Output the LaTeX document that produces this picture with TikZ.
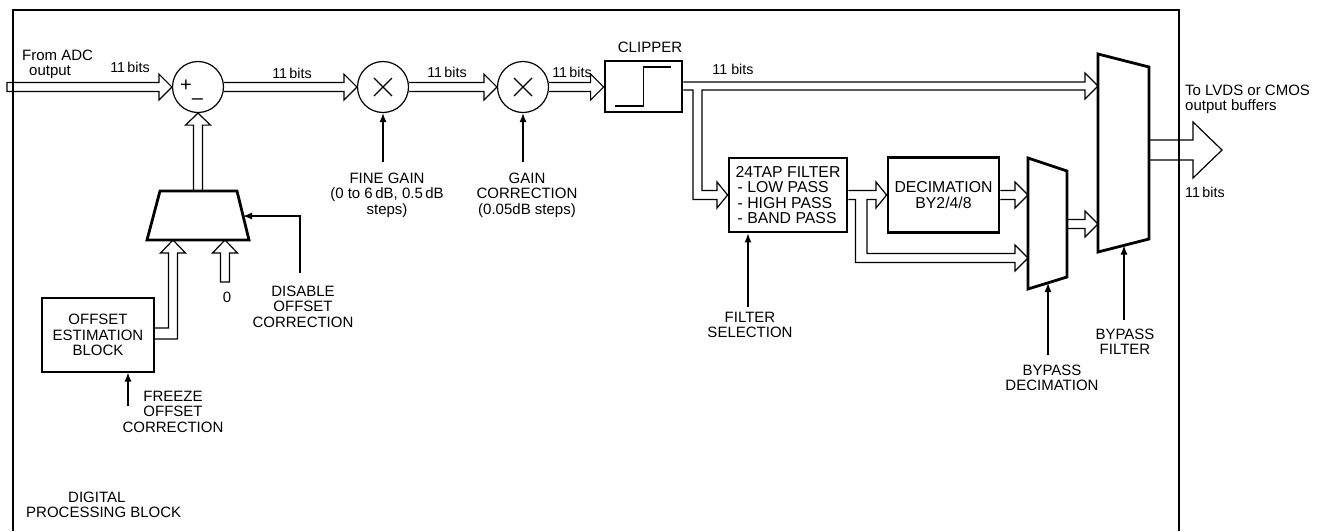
\documentclass[tikz,border=0pt]{standalone}
\usepackage{fontspec}
\setmainfont{Liberation Sans}
\usetikzlibrary{calc,arrows.meta}
\newcommand\lblfont{\fontsize{15}{15.3}\selectfont}
\newcommand\boxfont{\fontsize{15.8}{15.3}\selectfont}
\newcommand\bitsfont{\fontsize{14.3}{15}\selectfont}
% horizontal bus arrow: [half width]{start}{tip}
\newcommand\hbus[3][4.5]{\draw[bus] let \p1=(#2), \p2=(#3) in
  (\x1,\y1+#1pt) -- (\x2-13pt,\y1+#1pt) -- (\x2-13pt,\y1+13pt) -- (\x2,\y1)
  -- (\x2-13pt,\y1-13pt) -- (\x2-13pt,\y1-#1pt) -- (\x1,\y1-#1pt);}
\newcommand\hbusc[3][4.5]{\draw[bus] let \p1=(#2), \p2=(#3) in
  (\x1,\y1+#1pt) -- (\x2-13pt,\y1+#1pt) -- (\x2-13pt,\y1+13pt) -- (\x2,\y1)
  -- (\x2-13pt,\y1-13pt) -- (\x2-13pt,\y1-#1pt) -- (\x1,\y1-#1pt) -- cycle;}
% vertical (upward) bus arrow
\newcommand\vbus[3][4.5]{\draw[bus] let \p1=(#2), \p2=(#3) in
  (\x1-#1pt,\y1) -- (\x1-#1pt,\y2-12pt) -- (\x1-12.5pt,\y2-12pt) -- (\x1,\y2)
  -- (\x1+12.5pt,\y2-12pt) -- (\x1+#1pt,\y2-12pt) -- (\x1+#1pt,\y1);}
\begin{document}
\begin{tikzpicture}[x=1pt,y=-1pt,
  bus/.style={line width=1.2pt, line join=miter},
  sig/.style={line width=1.2pt, -{Latex[length=9pt,width=7pt]}},
  wire/.style={line width=1.2pt},
  sumc/.style={draw, circle, line width=1.2pt, minimum size=51pt, inner sep=0pt},
  blk/.style={draw, line width=2.8pt, inner sep=0pt, align=center, font=\boxfont},
  mux/.style={line width=2.8pt, line join=miter},
  lbl/.style={font=\lblfont, inner sep=0pt, align=center},
  bits/.style={font=\bitsfont, inner sep=0pt}]
\useasboundingbox (0,0) rectangle (1317,531);
% frame
\draw[line width=2.5pt, line join=miter] (13,531) -- (13,10) -- (1179,10) -- (1179,531);

% adders / multipliers
\node[sumc] (sum) at (198,87) {};
\node[font=\fontsize{20}{20}\selectfont, inner sep=0pt] (plus) at (186,86) {+};
\node[font=\fontsize{20}{20}\selectfont, inner sep=0pt] (minus) at (197.5,102) {–};
\node[sumc] (m1) at (383,87) {};
\node[sumc] (m2) at (523,87) {};
\draw[wire] ($(m1)+(-9,-9)$) -- ($(m1)+(9,9)$) ($(m1)+(-9,9)$) -- ($(m1)+(9,-9)$);
\draw[wire] ($(m2)+(-9,-9)$) -- ($(m2)+(9,9)$) ($(m2)+(-9,9)$) -- ($(m2)+(9,-9)$);

% clipper
\node[blk, minimum width=77pt, minimum height=51pt] (clip) at (643.5,86.5) {};
\draw[wire] ($(clip.center)+(-28.5,19.5)$) -- ++(28.5,0) -- ++(0,-39) -- ++(27,0);

% filter and decimation
\node[blk, minimum width=118pt, minimum height=74pt, align=left] (filt) at (788,195)
  {24TAP FILTER\\\hspace*{2pt}- LOW PASS\\\hspace*{2pt}- HIGH PASS\\\hspace*{2pt}- BAND PASS};
\node[blk, minimum width=111pt, minimum height=75pt] (dec) at (943.5,195) {DECIMATION\\BY2/4/8};

% offset estimation block
\node[blk, line width=1.2pt, minimum width=112pt, minimum height=74pt, font=\lblfont] (ob) at (98,335)
  {OFFSET\\ESTIMATION\\BLOCK};

% multiplexers
\draw[mux] (1098,54) -- (1149,67) -- (1149,239) -- (1098,252) -- cycle;
\coordinate (bmin1) at (1098,86);
\coordinate (bmin2) at (1098,224);
\coordinate (bmout) at (1149,150);
\coordinate (bmsel) at (1124,245.5);
\draw[mux] (1028,158) -- (1067,171) -- (1067,277) -- (1028,289) -- cycle;
\coordinate (smin1) at (1028,195);
\coordinate (smin2) at (1028,258);
\coordinate (smout) at (1067,224);
\coordinate (smsel) at (1048,283);
\draw[mux] (160,191) -- (237,191) -- (249,240) -- (147,240) -- cycle;
\coordinate (omout) at (198,191);
\coordinate (omin1) at (173,240);
\coordinate (omin2) at (225,240);
\coordinate (omsel) at (243,216);

% buses
\coordinate (adc) at (7,87);
\hbusc{adc}{sum.west}
\hbus{sum.east}{m1.west}
\hbus{m1.east}{m2.west}
\hbus{m2.east}{clip.west}
\hbus{dec.east}{smin1}
\hbus{smout}{bmin2}
\vbus{omout}{sum.south}
\draw[bus] let \p1=(bmout) in (\x1,\y1+10pt) -- (\x1+44pt,\y1+10pt) -- (\x1+44pt,\y1+28pt)
  -- (\x1+73pt,\y1) -- (\x1+44pt,\y1-28pt) -- (\x1+44pt,\y1-10pt) -- (\x1,\y1-10pt);
% clipper output with branch to filter
\draw[bus] ($(clip.east)+(0,-4.5)$) -- (1085,82) -- (1085,73) -- (bmin1) -- (1085,99) -- (1085,90)
  -- (702,90) -- (702,190.5) -- (717,190.5) -- (717,182) -- (filt.west) -- (717,208) -- (717,199.5)
  -- (693,199.5) -- (693,90) -- ($(clip.east)+(0,3.5)$);
% filter output with branch to bypass
\draw[bus] ($(filt.east)+(0,-4.5)$) -- (876,190.5) -- (876,182) -- (dec.west) -- (876,208) -- (876,199.5)
  -- (867,199.5) -- (867,253.5) -- (1015,253.5) -- (1015,245) -- (smin2) -- (1015,271) -- (1015,262.5)
  -- (855.5,262.5) -- (855.5,199.5) -- ($(filt.east)+(0,4.5)$);
% offset estimation to offset mux
\draw[bus] ($(ob.east)+(0,-7)$) -- (168.5,328) -- (168.5,253) -- (160.5,253) -- (omin1) -- (185.5,253)
  -- (177.5,253) -- (177.5,339) -- ($(ob.east)+(0,4)$);
\coordinate (zero) at (225,282);
\draw[bus] ($(zero)+(-4.5,0)$) -- (220.5,253) -- (212.5,253) -- (omin2) -- (237.5,253) -- (229.5,253)
  -- ($(zero)+(4.5,0)$) -- cycle;

% control signals
\coordinate (dis) at (300,273);
\draw[sig] (dis) -- (300,216) -- (omsel);
\coordinate (frz) at (128,406);
\draw[sig] (frz) -- ($(ob.south)+(30,0)$);
\coordinate (fg) at (383,162);
\draw[sig] (fg) -- (m1.south);
\coordinate (gc) at (523,162);
\draw[sig] (gc) -- (m2.south);
\coordinate (fs) at (748,307);
\draw[sig] (fs) -- ($(filt.south)+(-40,0)$);
\coordinate (bd) at (1048,355);
\draw[sig] (bd) -- (smsel);
\coordinate (bf) at (1124,320);
\draw[sig] (bf) -- (bmsel);

% labels
\node[lbl, anchor=north west, align=left] (tadc) at (22,50) {From ADC\\\hspace*{7pt}output};
\node[bits, anchor=north] (b1) at (130,62) {11\,bits};
\node[bits, anchor=north] (b2) at (292,68) {11\,bits};
\node[bits, anchor=north] (b3) at (447,67) {11\,bits};
\node[bits, anchor=north] (b4) at (572,67) {11\,bits};
\node[lbl, anchor=north] (tclip) at (650,42) {CLIPPER};
\node[bits, anchor=north] (b5) at (733,64) {11 bits};
\node[lbl, anchor=north] (tfg) at (387,173) {FINE GAIN\\(0 to 6\,dB, 0.5\,dB\\steps)};
\node[lbl, anchor=north] (tgc) at (527,173) {GAIN\\CORRECTION\\(0.05dB steps)};
\node[lbl, anchor=north] (tfs) at (750,312) {FILTER\\SELECTION};
\node[lbl, anchor=north] (tbd) at (1052,365) {BYPASS\\DECIMATION};
\node[lbl, anchor=north] (tbf) at (1125,329) {BYPASS\\FILTER};
\node[lbl, anchor=north west, align=left] (tout) at (1185,85) {To LVDS or CMOS\\output buffers};
\node[bits, anchor=north west] (b6) at (1185,187) {11\,bits};
\node[lbl, anchor=north] (tzero) at (227,292) {0};
\node[lbl, anchor=north] (tdis) at (303,286) {DISABLE\\OFFSET\\CORRECTION};
\node[lbl, anchor=north] (tfrz) at (173,391) {FREEZE\\OFFSET\\CORRECTION};
\node[lbl, anchor=north west, align=left] (tdpb) at (26,492) {\hspace*{42pt}DIGITAL\\PROCESSING BLOCK};
\end{tikzpicture}
\end{document}
